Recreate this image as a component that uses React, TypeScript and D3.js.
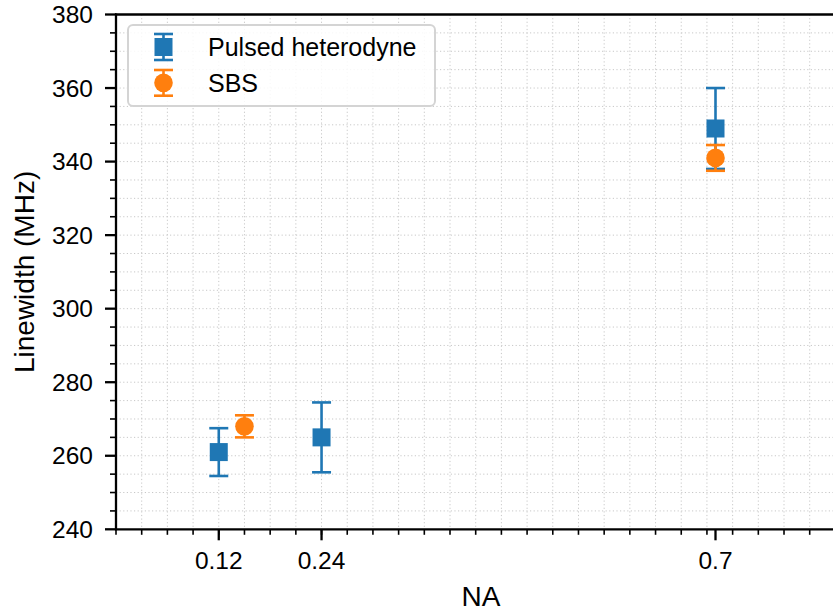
import React from "react";
import * as d3 from "d3";

const heteroNA = [0.12, 0.24, 0.7];
const heteroLW = [261, 265, 349];
const heteroErr = [6.5, 9.5, 11];

const sbsNA = [0.15, 0.7];
const sbsLW = [268, 341];
const sbsErr = [3, 3.5];

const xMajorTicks = [0.12, 0.24, 0.7];
const xMajorLabels = ["0.12", "0.24", "0.7"];
const yMajorTicks = [240, 260, 280, 300, 320, 340, 360, 380];

const W = 833;
const H = 612;
const BLUE = "#1f77b4";
const ORANGE = "#ff7f0e";
const FONT = "'Liberation Sans', Arial, sans-serif";

export default function App() {
  const x = d3.scaleLinear().domain([0, 0.84]).range([116, 835.4]);
  const y = d3.scaleLinear().domain([240, 380]).range([529.3, 14.5]);

  const xMinor = d3.range(0, 0.841, 0.03).map((v) => +v.toFixed(2));
  const yMinor = d3.range(240, 381, 5);

  const x0 = x.range()[0];
  const x1 = x.range()[1];
  const y0 = y.range()[0];
  const y1 = y.range()[1];

  const capHalf = 9.5;
  const ebWidth = 2.6;
  const half = 9;

  const errorBar = (cx: number, v: number, e: number, color: string, key: string) => (
    <g key={key} stroke={color} strokeWidth={ebWidth}>
      <line x1={cx} x2={cx} y1={y(v - e)} y2={y(v + e)} />
      <line x1={cx - capHalf} x2={cx + capHalf} y1={y(v - e)} y2={y(v - e)} />
      <line x1={cx - capHalf} x2={cx + capHalf} y1={y(v + e)} y2={y(v + e)} />
    </g>
  );

  return (
    <svg
      width={W}
      height={H}
      style={{ position: "absolute", left: 0, top: 0, background: "#fff" }}
      fontFamily={FONT}
    >
      <rect x={0} y={0} width={W} height={H} fill="#fff" />
      {/* grid */}
      <g stroke="#c8c8c8" strokeWidth={1} strokeDasharray="1.2,2.4">
        {xMinor
          .filter((v) => v > 0)
          .map((v) => (
            <line key={"gx" + v} x1={x(v)} x2={x(v)} y1={y1} y2={y0} />
          ))}
        {yMinor
          .filter((v) => v > 240 && v < 380)
          .map((v) => (
            <line key={"gy" + v} x1={x0} x2={x1} y1={y(v)} y2={y(v)} />
          ))}
      </g>

      {/* hetero error bars & markers */}
      {heteroNA.map((n, i) => errorBar(x(n), heteroLW[i], heteroErr[i], BLUE, "he" + i))}
      {heteroNA.map((n, i) => (
        <rect key={"hm" + i} x={x(n) - half} y={y(heteroLW[i]) - half} width={2 * half} height={2 * half} fill={BLUE} />
      ))}
      {/* SBS */}
      {sbsNA.map((n, i) => errorBar(x(n), sbsLW[i], sbsErr[i], ORANGE, "se" + i))}
      {sbsNA.map((n, i) => (
        <circle key={"sm" + i} cx={x(n)} cy={y(sbsLW[i])} r={half + 0.3} fill={ORANGE} />
      ))}

      {/* spines */}
      <g stroke="#000" strokeWidth={2.3}>
        <line x1={x0} x2={x0} y1={y1 - 1} y2={y0 + 1} />
        <line x1={x0 - 1} x2={x1} y1={y0} y2={y0} />
        <line x1={x0 - 1} x2={x1} y1={y1} y2={y1} />
        <line x1={x1} x2={x1} y1={y1} y2={y0} />
      </g>

      {/* ticks */}
      <g stroke="#000">
        {yMinor.map((v) => (
          <line key={"yt" + v} x1={x0} x2={x0 - (v % 20 === 0 ? 11 : 6)} y1={y(v)} y2={y(v)} strokeWidth={v % 20 === 0 ? 2.3 : 1.6} />
        ))}
        {xMinor.map((v) => (
          <line key={"xt" + v} x1={x(v)} x2={x(v)} y1={y0} y2={y0 + 5.5} strokeWidth={1.6} />
        ))}
        {xMajorTicks.map((v) => (
          <line key={"xM" + v} x1={x(v)} x2={x(v)} y1={y0} y2={y0 + 11} strokeWidth={2.3} />
        ))}
      </g>
      <g fontSize={24.5} fill="#000">
        {yMajorTicks.map((v) => (
          <text key={"yl" + v} x={93} y={y(v)} dy="0.35em" textAnchor="end">
            {v}
          </text>
        ))}
        {xMajorTicks.map((v, i) => (
          <text key={"xl" + v} x={x(v)} y={569.3} textAnchor="middle">
            {xMajorLabels[i]}
          </text>
        ))}
      </g>
      <g fontSize={28} fill="#000">
        <text x={481} y={605.7} textAnchor="middle">NA</text>
        <text transform={`translate(34,${(y0 + y1) / 2}) rotate(-90)`} textAnchor="middle">
          Linewidth (MHz)
        </text>
      </g>

      {/* legend */}
      <g>
        <rect x={128} y={25} width={307} height={81} rx={5} fill="#fff" fillOpacity={0.85} stroke="#d4d4d4" strokeWidth={2} />
        <g stroke={BLUE} strokeWidth={ebWidth}>
          <line x1={163.5} x2={163.5} y1={34} y2={60} />
          <line x1={163.5 - capHalf} x2={163.5 + capHalf} y1={34} y2={34} />
          <line x1={163.5 - capHalf} x2={163.5 + capHalf} y1={60} y2={60} />
        </g>
        <rect x={163.5 - half} y={47 - half} width={2 * half} height={2 * half} fill={BLUE} />
        <g stroke={ORANGE} strokeWidth={ebWidth}>
          <line x1={163.5} x2={163.5} y1={70} y2={95.7} />
          <line x1={163.5 - capHalf} x2={163.5 + capHalf} y1={70} y2={70} />
          <line x1={163.5 - capHalf} x2={163.5 + capHalf} y1={95.7} y2={95.7} />
        </g>
        <circle cx={163.5} cy={82.8} r={half + 0.3} fill={ORANGE} />
        <text x={208} y={56} fontSize={25}>Pulsed heterodyne</text>
        <text x={208} y={91.7} fontSize={25}>SBS</text>
      </g>
    </svg>
  );
}
